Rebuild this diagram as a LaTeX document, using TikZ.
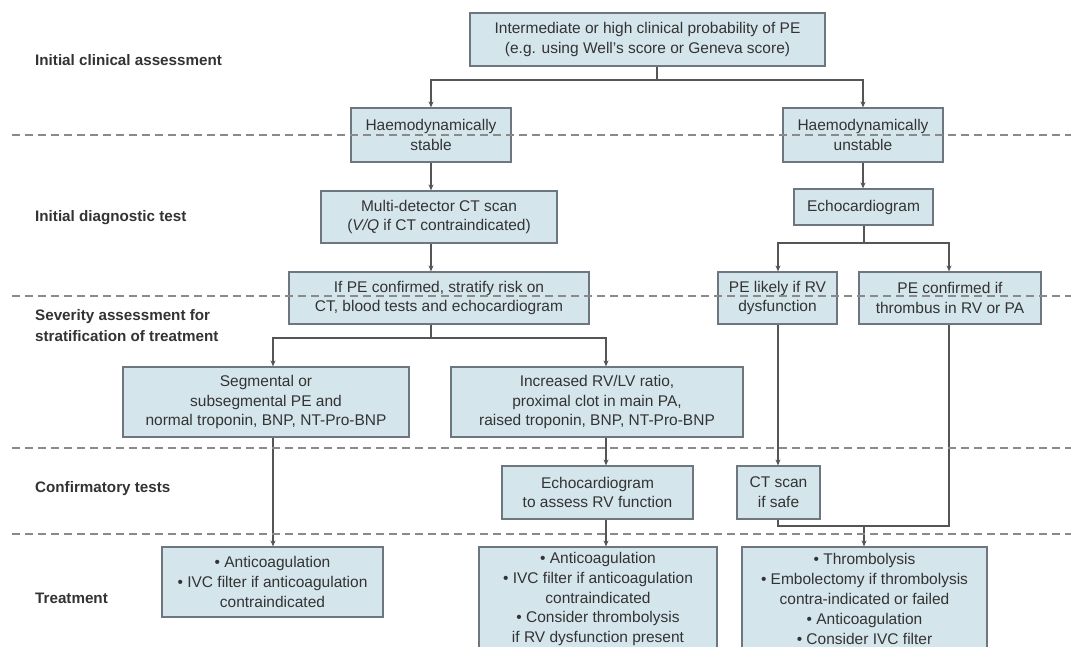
\documentclass[tikz,border=0pt]{standalone}
\usepackage{fontspec}
\setmainfont{Liberation Sans}
\usetikzlibrary{arrows.meta,calc}
\definecolor{boxfill}{HTML}{D5E5EC}
\definecolor{boxline}{HTML}{6E7780}
\definecolor{conn}{HTML}{555555}
\definecolor{txt}{HTML}{333333}
\definecolor{dash}{HTML}{8A8A8A}
\tikzset{
  box/.style={draw=boxline, fill=boxfill, line width=1.2pt, inner sep=0pt, align=center,
    text=txt, font=\fontsize{15.5}{19.8}\selectfont},
  lbl/.style={anchor=west, inner sep=0pt, align=left, text=txt,
    font=\fontsize{15.2}{21}\selectfont\bfseries},
  conn/.style={draw=conn, line width=1.3pt},
  arr/.style={conn, -{Stealth[length=6pt,width=5pt]}},
  sep/.style={draw=dash, line width=1.1pt, dash pattern=on 8pt off 5pt},
}
\begin{document}
\begin{tikzpicture}[x=1pt,y=-1pt]
\useasboundingbox (0,0) rectangle (1071,647);
\fill[white] (0,0) rectangle (1071,647);
\clip (0,0) rectangle (1071,647);

% labels
\node[lbl] (l1) at (35,60) {Initial clinical assessment};
\node[lbl] (l2) at (35,218) {Initial diagnostic test};
\node[lbl] (l3) at (35,325.5) {Severity assessment for\\stratification of treatment};
\node[lbl] (l4) at (35,489) {Confirmatory tests};
\node[lbl] (l5) at (35,598) {Treatment};

% boxes
\node[box, minimum width=355pt, minimum height=53pt] (top) at (647.5,39.5)
  {Intermediate or high clinical probability of PE\\(e.g. using Well's score or Geneva score)};
\node[box, minimum width=160pt, minimum height=54pt] (stable) at (431,135)
  {Haemodynamically\\stable};
\node[box, minimum width=160pt, minimum height=54pt] (unstable) at (863,135)
  {Haemodynamically\\unstable};
\node[box, minimum width=236pt, minimum height=52pt] (mdct) at (439,217)
  {Multi-detector CT scan\\(\textit{V/Q} if CT contraindicated)};
\node[box, minimum width=139pt, minimum height=36pt] (echo) at (863.5,207)
  {Echocardiogram};
\node[box, minimum width=300pt, minimum height=52pt] (ifpe) at (439,298)
  {If PE confirmed, stratify risk on\\CT, blood tests and echocardiogram};
\node[box, minimum width=119pt, minimum height=52pt] (likely) at (777.5,298)
  {PE likely if RV\\dysfunction};
\node[box, minimum width=182pt, minimum height=52pt] (confirmed) at (950,298)
  {PE confirmed if\\thrombus in RV or PA};
\node[box, minimum width=286pt, minimum height=70pt] (seg) at (266,402)
  {Segmental or\\subsegmental PE and\\normal troponin, BNP, NT-Pro-BNP};
\node[box, minimum width=292pt, minimum height=70pt] (inc) at (597,402)
  {Increased RV/LV ratio,\\proximal clot in main PA,\\raised troponin, BNP, NT-Pro-BNP};
\node[box, minimum width=191pt, minimum height=53pt] (echo2) at (597.5,492.5)
  {Echocardiogram\\to assess RV function};
\node[box, minimum width=83pt, minimum height=53pt] (ctsafe) at (778.5,492.5)
  {CT scan\\if safe};
\node[box, minimum width=221pt, minimum height=70pt] (t1) at (272.5,582)
  {• Anticoagulation\\• IVC filter if anticoagulation\\contraindicated};
\node[box, minimum width=238pt, minimum height=104pt] (t2) at (598,599)
  {• Anticoagulation\\• IVC filter if anticoagulation\\contraindicated\\• Consider thrombolysis\\if RV dysfunction present};
\node[box, minimum width=245pt, minimum height=104pt] (t3) at (864.5,599)
  {• Thrombolysis\\• Embolectomy if thrombolysis\\contra-indicated or failed\\• Anticoagulation\\• Consider IVC filter};

% junction coordinates
\coordinate (j1) at (657,80);
\coordinate (j2) at (864,243);
\coordinate (j3) at (431,338);
\coordinate (sx) at (273,0);
\coordinate (ix) at (606,0);
\coordinate (lx) at (778,0);
\coordinate (j4) at (864,526);
\coordinate (cr) at (949,526);

% connectors
\draw[conn] (j1 |- top.south) -- (j1);
\draw[arr] (j1) -| (stable.north);
\draw[arr] (j1) -| (unstable.north);
\draw[arr] (stable.south) -- (stable.south |- mdct.north);
\draw[arr] (unstable.south) -- (unstable.south |- echo.north);
\draw[arr] (stable.south |- mdct.south) -- (stable.south |- ifpe.north);
\draw[conn] (j2 |- echo.south) -- (j2);
\draw[arr] (j2) -| (lx |- likely.north);
\draw[arr] (j2) -| (cr |- confirmed.north);
\draw[conn] (j3 |- ifpe.south) -- (j3);
\draw[arr] (j3) -| (sx |- seg.north);
\draw[arr] (j3) -| (ix |- inc.north);
\draw[arr] (sx |- seg.south) -- (sx |- t1.north);
\draw[arr] (ix |- inc.south) -- (ix |- echo2.north);
\draw[arr] (ix |- echo2.south) -- (ix |- t2.north);
\draw[arr] (lx |- likely.south) -- (lx |- ctsafe.north);
\draw[conn] (cr |- confirmed.south) -- (cr) -- (lx |- cr) -- (lx |- ctsafe.south);
\draw[arr] (j4) -- (j4 |- t3.north);

% separators
\foreach \yy/\nm in {135/d1, 296/d2, 448/d3, 534/d4} {
  \coordinate (\nm a) at (12,\yy);
  \coordinate (\nm b) at (1071,\yy);
  \draw[sep] (\nm a) -- (\nm b);
}
\end{tikzpicture}
\end{document}
